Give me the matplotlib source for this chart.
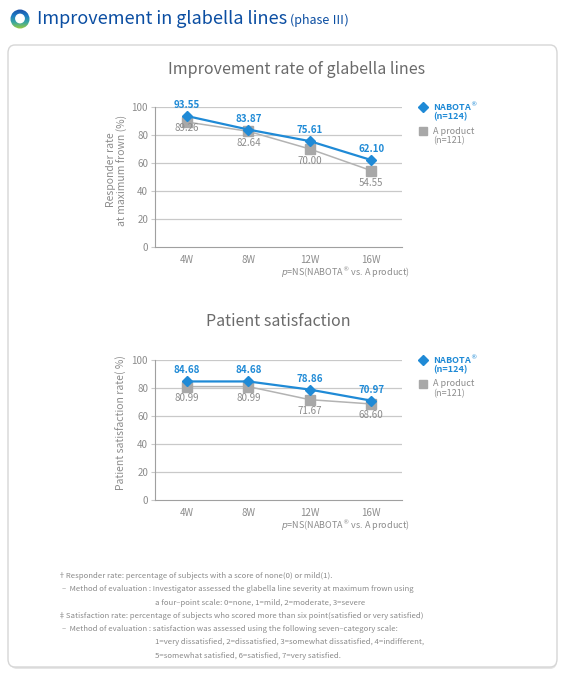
"""Improvement in glabella lines (phase III) - two line charts in one panel."""

import matplotlib.pyplot as plt
import numpy as np
from matplotlib.colors import LinearSegmentedColormap
from matplotlib.patches import Circle, FancyBboxPatch

plt.rcParams["font.family"] = ["Noto Sans CJK KR", "DejaVu Sans"]

W, H = 568, 674

WEEKS = ["4W", "8W", "12W", "16W"]
Y_TICKS = [0, 20, 40, 60, 80, 100]

RESPONDER_NABOTA = [93.55, 83.87, 75.61, 62.10]
RESPONDER_A = [89.26, 82.64, 70.00, 54.55]

SATISFACTION_NABOTA = [84.68, 84.68, 78.86, 70.97]
SATISFACTION_A = [80.99, 80.99, 71.67, 68.60]

# gray label offsets (pixels below marker), first point in chart 1 sits closer
RESPONDER_A_OFFSETS = [-6, -12, -12, -12]
SATISFACTION_A_OFFSETS = [-11, -11, -11, -11]

BLUE = "#1f8ad6"
GRAY = "#a8a8a8"
TEXT_GRAY = "#8c8c8c"
TITLE_BLUE = "#0b4ea2"

FOOTNOTES = [
    (58, "\u2020Responder rate: percentage of subjects with a score of none(0) or mild(1)."),
    (62, "\u2013  Method of evaluation : Investigator assessed the glabella line severity at maximum frown using"),
    (155, "a four\u2013point scale: 0=none, 1=mild, 2=moderate, 3=severe"),
    (58, "\u2021Satisfaction rate: percentage of subjects who scored more than six point(satisfied or very satisfied)"),
    (62, "\u2013  Method of evaluation : satisfaction was assessed using the following seven\u2013category scale:"),
    (155, "1=very dissatisfied, 2=dissatisfied, 3=somewhat dissatisfied, 4=indifferent,"),
    (155, "5=somewhat satisfied, 6=satisfied, 7=very satisfied."),
]


def fx(x):
    return x / W


def fy(y):
    return 1 - y / H


def draw_icon(fig):
    """标题前的渐变圆环"""
    ax = fig.add_axes([fx(10), fy(29), 20 / W, 20 / H])
    ax.set_xlim(-1, 1)
    ax.set_ylim(-1, 1)
    ax.axis("off")
    cmap = LinearSegmentedColormap.from_list("ring", ["#1b4fa8", "#1d7cc4", "#3aa6a0", "#9ccc3c"])
    grad = np.linspace(0, 1, 64)[:, None]
    img = ax.imshow(grad, cmap=cmap, extent=(-1, 1, -1, 1), origin="upper", aspect="auto")
    ring = Circle((0, 0), 0.95, transform=ax.transData)
    img.set_clip_path(ring)
    ax.add_patch(Circle((0, 0.05), 0.42, color="white", zorder=3))


def draw_chart(fig, top_px, title, title_x, title_y, ylabel, ylabel_x, nabota, other, other_offsets):
    ax = fig.add_axes([fx(155), fy(top_px + 140), 247 / W, 140 / H])
    x = np.arange(len(WEEKS))

    for v in Y_TICKS[1:]:
        ax.axhline(v, color="#c9c9c9", lw=0.9, zorder=0)

    ax.plot(x, other, color="#b3b3b3", lw=1.1, marker="s", ms=6.5,
            mfc=GRAY, mec=GRAY, zorder=2)
    ax.plot(x, nabota, color=BLUE, lw=1.6, marker="D", ms=5.5,
            mfc=BLUE, mec=BLUE, zorder=3)

    for xi, v in zip(x, nabota):
        ax.annotate(f"{v:.2f}", (xi, v), xytext=(0, 11), textcoords="offset pixels",
                    ha="center", va="center", fontsize=7, fontweight="bold", color=BLUE)
    for xi, v, off in zip(x, other, other_offsets):
        ax.annotate(f"{v:.2f}", (xi, v), xytext=(0, off), textcoords="offset pixels",
                    ha="center", va="center", fontsize=7, color=TEXT_GRAY, zorder=4)

    ax.set_xlim(-0.52, 3.5)
    ax.set_ylim(0, 100)
    ax.set_xticks(x, WEEKS)
    ax.set_yticks(Y_TICKS)
    ax.tick_params(axis="x", length=0, pad=6, labelsize=7, labelcolor=TEXT_GRAY)
    ax.tick_params(axis="y", length=3, width=0.8, color="#c9c9c9", pad=2,
                   labelsize=7, labelcolor=TEXT_GRAY)
    for side in ("top", "right"):
        ax.spines[side].set_visible(False)
    ax.spines["left"].set_color("#a0a0a0")
    ax.spines["bottom"].set_color("#a0a0a0")
    ax.patch.set_alpha(0)

    fig.text(fx(title_x), fy(title_y), title, ha="center", va="center",
             fontsize=11.5, color="#6a6a6a")
    fig.text(fx(ylabel_x), fy(top_px + 63), ylabel, ha="center", va="center",
             rotation=90, fontsize=7.5, color=TEXT_GRAY, linespacing=1.1)
    fig.text(fx(410), fy(top_px + 166), r"$\it{p}$=NS(NABOTA$^{\circledR}$ vs. A product)",
             ha="right", va="center", fontsize=6.5, color=TEXT_GRAY)

    # legend
    lx = 423
    ly = top_px
    fig.add_artist(plt.Line2D([fx(lx)], [fy(ly)], marker="D", ms=5, color=BLUE,
                              transform=fig.transFigure))
    fig.text(fx(lx + 10), fy(ly), r"NABOTA$^{\circledR}$", fontsize=6.5, fontweight="bold",
             color=BLUE, va="center")
    fig.text(fx(lx + 10), fy(ly + 10), "(n=124)", fontsize=6.5, fontweight="bold",
             color=BLUE, va="center")
    fig.add_artist(plt.Line2D([fx(lx)], [fy(ly + 24)], marker="s", ms=5.5, color=GRAY,
                              transform=fig.transFigure))
    fig.text(fx(lx + 10), fy(ly + 24), "A product", fontsize=6.5, color=TEXT_GRAY, va="center")
    fig.text(fx(lx + 10), fy(ly + 34), "(n=121)", fontsize=6.5, color=TEXT_GRAY, va="center")
    return ax


def main():
    fig = plt.figure(figsize=(W / 100, H / 100), dpi=100)
    fig.patch.set_facecolor("white")

    shadow = FancyBboxPatch((fx(10), fy(669)), (548 - 1) / W, (669 - 47) / H,
                            boxstyle="round,pad=0,rounding_size=0.012",
                            transform=fig.transFigure, facecolor="#e6e6e6",
                            edgecolor="none", zorder=0)
    panel = FancyBboxPatch((fx(8), fy(667)), (557 - 8) / W, (667 - 45) / H,
                           boxstyle="round,pad=0,rounding_size=0.012",
                           transform=fig.transFigure, facecolor="white",
                           edgecolor="#d6d6d6", lw=1, zorder=0)
    fig.add_artist(shadow)
    fig.add_artist(panel)

    draw_icon(fig)
    fig.text(fx(37), fy(19), "Improvement in glabella lines", fontsize=13,
             color=TITLE_BLUE, va="center")
    fig.text(fx(290), fy(20), "(phase \u2162)", fontsize=9,
             color=TITLE_BLUE, va="center")

    draw_chart(fig, 107, "Improvement rate of glabella lines", 297, 69,
               "Responder rate\nat maximum frown (%)", 117,
               RESPONDER_NABOTA, RESPONDER_A, RESPONDER_A_OFFSETS)
    draw_chart(fig, 360, "Patient satisfaction", 278, 321,
               "Patient satisfaction rate( %)", 121,
               SATISFACTION_NABOTA, SATISFACTION_A, SATISFACTION_A_OFFSETS)

    y = 576
    for x, line in FOOTNOTES:
        fig.text(fx(x), fy(y), line, fontsize=5.6, color="#8a8a8a", va="center")
        y += 13.3

    fig.savefig("out.png", dpi=100)


if __name__ == "__main__":
    main()
